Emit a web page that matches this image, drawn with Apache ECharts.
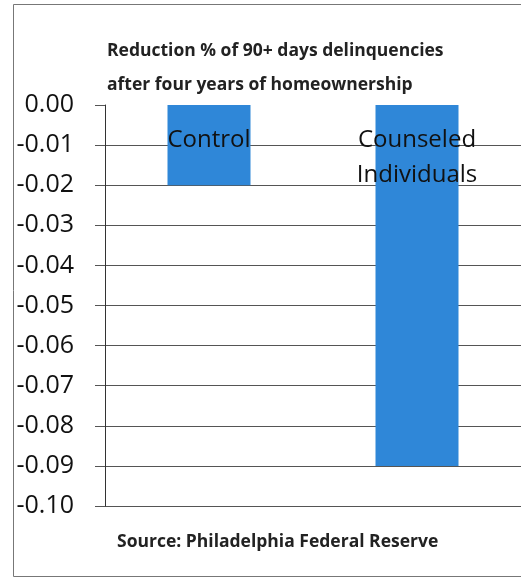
<!DOCTYPE html>
<html><head><meta charset="utf-8">
<script src="https://cdn.jsdelivr.net/npm/echarts@6/dist/echarts.min.js"></script>
<style>html,body{margin:0;padding:0;background:#fff}#c{width:521px;height:581px}</style>
</head><body><div id="c"></div>
<script>
var categories = ['Control', 'Counseled\nIndividuals'];
var values = [-0.02, -0.09];
var titleLines = ['Reduction % of 90+ days delinquencies', 'after four years of homeownership'];
var sourceText = 'Source: Philadelphia Federal Reserve';
var yMin = -0.10, yMax = 0.00, yStep = 0.01;

var chart = echarts.init(document.getElementById('c'));
chart.setOption({
  animation: false,
  backgroundColor: '#fff',
  graphic: [
    {type: 'rect', shape: {x: 13.5, y: 4.5, width: 520, height: 572}, style: {fill: 'none', stroke: '#777', lineWidth: 1}, z: -1},
    {type: 'text', left: 107, top: 42, style: {text: titleLines[0], font: 'bold 17.5px "Open Sans"', fill: '#222'}},
    {type: 'text', left: 107, top: 76, style: {text: titleLines[1], font: 'bold 17.5px "Open Sans"', fill: '#222'}},
    {type: 'text', left: 117, top: 533, style: {text: sourceText, font: 'bold 17.5px "Open Sans"', fill: '#222'}}
  ],
  grid: {left: 105, right: 0, top: 105, bottom: 75},
  xAxis: {
    type: 'category', data: categories,
    axisLine: {show: false}, axisTick: {show: false}, axisLabel: {show: false}
  },
  yAxis: {
    type: 'value', min: yMin, max: yMax, interval: yStep,
    axisLine: {show: true, lineStyle: {color: '#333', width: 1}},
    axisTick: {show: true, length: 10, lineStyle: {color: '#555'}},
    axisLabel: {margin: 31, fontFamily: 'Open Sans', fontSize: 25, color: '#111',
      formatter: function (v) { return v.toFixed(2); }},
    splitLine: {show: true, showMaxLine: false, lineStyle: {color: '#555', width: 1}}
  },
  series: [{
    type: 'bar', data: values, barWidth: 83,
    itemStyle: {color: '#2f87d8'},
    label: {show: true, position: 'insideTop', distance: 18, color: '#111',
      fontFamily: 'Open Sans', fontSize: 24, lineHeight: 35,
      formatter: function (p) { return p.name; }}
  }]
});
</script></body></html>
